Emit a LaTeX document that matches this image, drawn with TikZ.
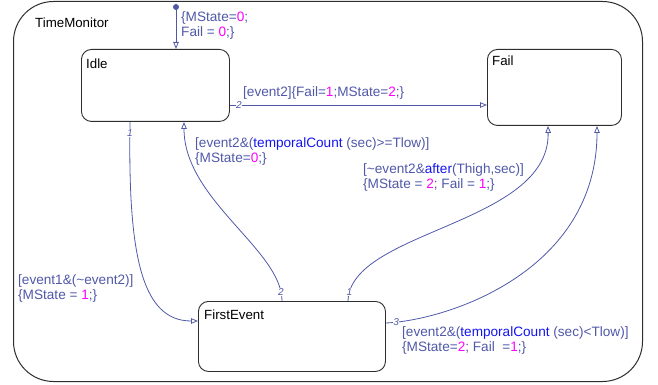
\documentclass[tikz,border=0pt]{standalone}
\usepackage{fontspec}
\setmainfont{Liberation Sans}
\usetikzlibrary{arrows.meta}

\definecolor{trcol}{RGB}{80,88,168}
\definecolor{valcol}{RGB}{255,0,255}
\definecolor{kwcol}{RGB}{20,20,240}
\definecolor{boxcol}{RGB}{45,45,45}

\newcommand{\vl}[1]{\textcolor{valcol}{#1}}
\newcommand{\kw}[1]{\textcolor{kwcol}{#1}}

\begin{document}
\begin{tikzpicture}[x=1pt,y=-1pt,>={Triangle[open,length=7pt,width=5.5pt]},
  chart node/.style={rectangle,draw=boxcol,line width=1pt,rounded corners=40pt,anchor=north west,inner sep=0pt},
  state node/.style={rectangle,draw=boxcol,line width=0.9pt,rounded corners=10pt,anchor=north west,inner sep=0pt},
  name node/.style={anchor=north west,inner sep=0pt,font=\fontsize{13.3}{15}\selectfont},
  trans/.style={->,draw=trcol,line width=0.8pt},
  trans label/.style={anchor=base west,inner sep=0pt,align=left,text=trcol,font=\fontsize{13.6}{15}\selectfont},
  num/.style={fill=white,inner sep=0.6pt,text=trcol,font=\fontsize{10}{10}\selectfont\itshape}]

  \useasboundingbox (0,0) rectangle (658,385);

  % chart and states
  \node[chart node,minimum width=629pt,minimum height=380pt] (tm) at (13,1) {};
  \node[name node] (tmname) at ([xshift=22pt,yshift=-17pt]tm.north west) {TimeMonitor};

  \node[state node,minimum width=148pt,minimum height=72pt] (idle) at (81,49) {};
  \node[state node,minimum width=134pt,minimum height=76pt] (fail) at (487,49) {};
  \node[state node,minimum width=187pt,minimum height=70pt] (first) at (198,301) {};

  \node[name node] (idlename) at ([xshift=5pt,yshift=-10pt]idle.north west) {Idle};
  \node[name node] (failname) at ([xshift=5pt,yshift=-7pt]fail.north west) {Fail};
  \node[name node] (firstname) at ([xshift=6pt,yshift=-9pt]first.north west) {FirstEvent};

  % default transition
  \coordinate (init) at (176,7);
  \fill[trcol] (init) circle (3pt);
  \draw[trans] (init) -- ([xshift=95pt]idle.north west);

  % transitions
  \draw[trans] ([yshift=-56pt]idle.north east) -- ([yshift=-56pt]fail.north west)
    node[num,pos=0.035] {2};
  \draw[trans] ([xshift=49pt]idle.south west) .. controls (128,250) and (140,321) .. ([yshift=-20pt]first.north west)
    node[num,pos=0.03] {1};
  \draw[trans] ([xshift=84pt]first.north west) .. controls (282,250) and (184,200) .. ([xshift=103pt]idle.south west)
    node[num,pos=0.06] {2};
  \draw[trans] ([xshift=150pt]first.north west) .. controls (350,230) and (550,225) .. ([xshift=61pt]fail.south west)
    node[num,pos=0.045] {1};
  \draw[trans] ([yshift=-22pt]first.north east) .. controls (450,320) and (597,270) .. ([xshift=110pt]fail.south west)
    node[num,pos=0.05] {3};

  % labels (base = last line)
  \node[trans label] (l0) at (181,36.5) {\{MState=\vl{0};\\Fail = \vl{0};\}};
  \node[trans label] (l1) at (243,96.5) {[event2]\{Fail=\vl{1};MState=\vl{2};\}};
  \node[trans label] (l2) at (18,299.5) {[event1\&(\textasciitilde event2)]\\\{MState = \vl{1};\}};
  \node[trans label] (l3) at (195,162.5) {[event2\&(\kw{temporalCount} (sec)>=Tlow)]\\\{MState=\vl{0};\}};
  \node[trans label] (l4) at (363,188.5) {[\textasciitilde event2\&\kw{after}(Thigh,sec)]\\\{MState = \vl{2}; Fail = \vl{1};\}};
  \node[trans label] (l5) at (402,351.5) {[event2\&(\kw{temporalCount} (sec)<Tlow)]\\\{MState=\vl{2}; Fail \ =\vl{1};\}};

\end{tikzpicture}
\end{document}
